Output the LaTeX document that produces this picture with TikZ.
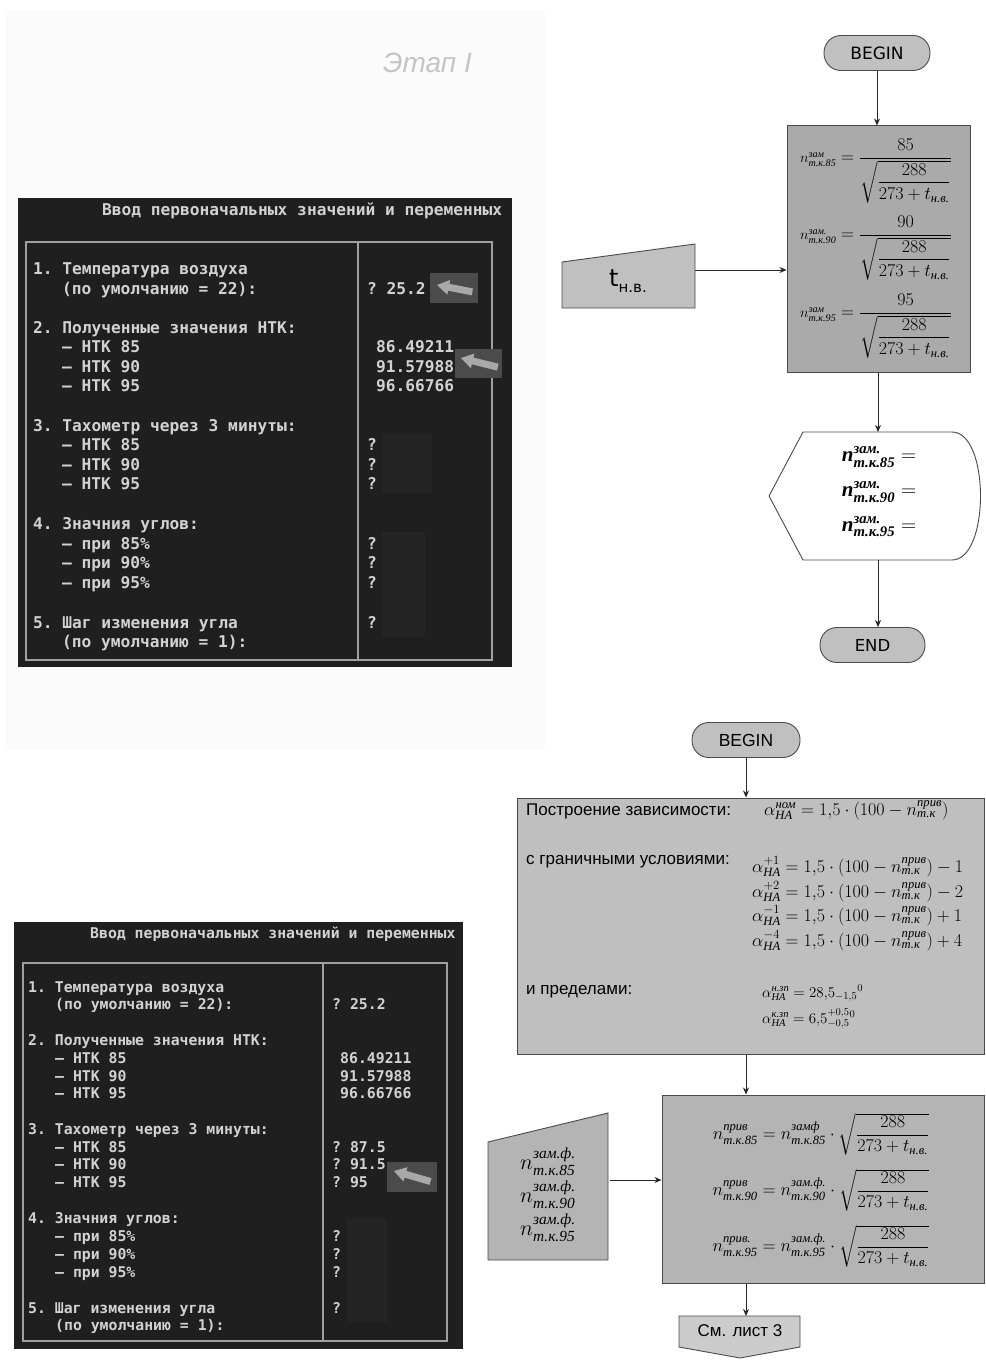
\RequirePackage{fix-cm}
\documentclass[tikz,border=0pt]{standalone}
\usepackage{amsmath}
\usepackage{graphicx}
\usepackage{fontspec}
\setmainfont{Liberation Serif}
\setsansfont{Liberation Sans}
\newfontfamily\termfont{DejaVu Sans Mono}[WordSpace={1,0,0}]
\newfontfamily\verdfont{DejaVu Sans}
\usetikzlibrary{arrows.meta,calc}
\definecolor{termbg}{HTML}{1F1F1F}
\definecolor{termtxt}{HTML}{D2D2D2}
\definecolor{termline}{HTML}{A0A0A0}
\definecolor{arrbox}{HTML}{4B4B4B}
\definecolor{arrfg}{HTML}{A8A8A8}
\definecolor{patch}{HTML}{242424}
\definecolor{flowline}{HTML}{4A4A4A}
\definecolor{fillA}{HTML}{C0C0C0}
\definecolor{fillB}{HTML}{AAAAAA}
\definecolor{fillC}{HTML}{BFBFBF}
\definecolor{fillD}{HTML}{B4B4B4}
\definecolor{fillE}{HTML}{CCCCCC}
\definecolor{faint}{HTML}{FBFBFB}
\definecolor{etapgray}{HTML}{C4C4C4}
\newcommand{\cyi}[1]{\text{\rmfamily\itshape #1}}
\newcommand{\zamfrac}[2]{$\scalebox{0.8}{$n^{\cyi{#1}}_{\cyi{т.к.#2}}$}=\dfrac{#2}{\sqrt{\dfrac{288}{273+t_{\cyi{н.в.}}}}}$}
\newcommand{\privf}[3]{$n^{\cyi{#1}}_{\cyi{т.к.#3}}=n^{\cyi{#2}}_{\cyi{т.к.#3}}\cdot\sqrt{\dfrac{288}{273+t_{\cyi{н.в.}}}}$}
\newcommand{\bnd}[2]{$\alpha^{#1}_{\cyi{НА}}=1{,}5\cdot(100-n^{\cyi{прив}}_{\cyi{т.к}})#2$}
\newcommand{\dispn}[1]{$\cyi{n}^{\cyi{зам.}}_{\cyi{т.к.#1}}=$}
\newcommand{\blkarrow}[4]{\fill[arrfg, shift={(#1,#2)}, rotate=#3] (0,0) -- (12,-7.5) -- (12,-3.5) -- (#4,-3.5) -- (#4,3.5) -- (12,3.5) -- (12,7.5) -- cycle;}
\begin{document}
\begin{tikzpicture}[x=1pt,y=-1pt,
  termA/.style={font=\termfont\bfseries\frenchspacing\fontsize{16.2}{18}\selectfont, text=termtxt, anchor=base west, inner sep=0pt},
  termB/.style={font=\termfont\bfseries\frenchspacing\fontsize{14.8}{16}\selectfont, text=termtxt, anchor=base west, inner sep=0pt},
  stadium/.style={draw=flowline, fill=fillA, line width=0.9pt, rounded corners=17pt, minimum height=35pt, inner sep=0pt},
  procbox/.style={draw=flowline, line width=1pt, inner sep=0pt},
  mathf/.style={font=\rmfamily\fontsize{18}{20}\selectfont, inner sep=0pt},
  boxlbl/.style={font=\sffamily\fontsize{17}{19}\selectfont, anchor=base west, inner sep=0pt},
  flowarrow/.style={draw=black!85, line width=0.8pt, -{Stealth[length=7pt,width=6pt]}}]
\useasboundingbox (0,0) rectangle (985,1362);
\fill[white] (0,0) rectangle (985,1362);
\fill[faint] (5,10) rectangle (545,750);

% ---------- Etap I
\node[font=\sffamily\itshape\fontsize{28}{30}\selectfont, text=etapgray, anchor=base west, inner sep=0pt] (etap) at (383,73) {Этап I};

% ---------- top terminal panel
\fill[termbg] (18,198) rectangle (512,667);
\fill[patch] (382,433) rectangle (432,493);
\fill[patch] (382,532) rectangle (425,637);
\draw[termline, line width=2pt] (26,242) rectangle (492,660);
\draw[termline, line width=2pt] (358,242) -- (358,660);
\node[termA] (ttitle) at (102,215) {Ввод первоначальных значений и переменных};
\node[termA] (t1) at (33,274) {1. Температура воздуха};
\node[termA] (t2) at (62,294) {(по умолчанию = 22):};
\node[termA] (t3) at (33,333) {2. Полученные значения НТК:};
\node[termA] (t4) at (62,352) {– НТК 85};
\node[termA] (t5) at (62,372) {– НТК 90};
\node[termA] (t6) at (62,391) {– НТК 95};
\node[termA] (t7) at (33,431) {3. Тахометр через 3 минуты:};
\node[termA] (t8) at (62,450) {– НТК 85};
\node[termA] (t9) at (62,470) {– НТК 90};
\node[termA] (t10) at (62,489) {– НТК 95};
\node[termA] (t11) at (33,529) {4. Значния углов:};
\node[termA] (t12) at (62,549) {– при 85\%};
\node[termA] (t13) at (62,568) {– при 90\%};
\node[termA] (t14) at (62,588) {– при 95\%};
\node[termA] (t15) at (33,628) {5. Шаг изменения угла};
\node[termA] (t16) at (62,647) {(по умолчанию = 1):};
\node[termA] (tv1) at (367,294) {? 25.2};
\node[termA] (tv2) at (376,352) {86.49211};
\node[termA] (tv3) at (376,372) {91.57988};
\node[termA] (tv4) at (376,391) {96.66766};
\node[termA] (tq1) at (367,450) {?};
\node[termA] (tq2) at (367,470) {?};
\node[termA] (tq3) at (367,489) {?};
\node[termA] (tq4) at (367,549) {?};
\node[termA] (tq5) at (367,568) {?};
\node[termA] (tq6) at (367,588) {?};
\node[termA] (tq7) at (367,628) {?};
\fill[arrbox] (430,273) rectangle (478,303);
\blkarrow{437}{285}{-11}{36}
\fill[arrbox] (455,349) rectangle (502,378);
\blkarrow{461}{358}{-14}{38}

% ---------- bottom terminal panel
\fill[termbg] (14,922) rectangle (463,1349);
\fill[patch] (347,1218) rectangle (387,1322);
\draw[termline, line width=2pt] (23,963) rectangle (447,1341);
\draw[termline, line width=2pt] (323,963) -- (323,1341);
\node[termB] (btitle) at (90,938) {Ввод первоначальных значений и переменных};
\node[termB] (b1) at (28,992.5) {1. Температура воздуха};
\node[termB] (b2) at (55,1009.5) {(по умолчанию = 22):};
\node[termB] (b3) at (28,1045.5) {2. Полученные значения НТК:};
\node[termB] (b4) at (55,1063.5) {– НТК 85};
\node[termB] (b5) at (55,1081.5) {– НТК 90};
\node[termB] (b6) at (55,1098.5) {– НТК 95};
\node[termB] (b7) at (28,1134.5) {3. Тахометр через 3 минуты:};
\node[termB] (b8) at (55,1152.5) {– НТК 85};
\node[termB] (b9) at (55,1169.5) {– НТК 90};
\node[termB] (b10) at (55,1187.5) {– НТК 95};
\node[termB] (b11) at (28,1223.5) {4. Значния углов:};
\node[termB] (b12) at (55,1241.5) {– при 85\%};
\node[termB] (b13) at (55,1259.5) {– при 90\%};
\node[termB] (b14) at (55,1277.5) {– при 95\%};
\node[termB] (b15) at (28,1313.5) {5. Шаг изменения угла};
\node[termB] (b16) at (55,1330.5) {(по умолчанию = 1):};
\node[termB] (bv1) at (332,1009.5) {? 25.2};
\node[termB] (bv2) at (340,1063.5) {86.49211};
\node[termB] (bv3) at (340,1081.5) {91.57988};
\node[termB] (bv4) at (340,1098.5) {96.66766};
\node[termB] (bv5) at (332,1152.5) {? 87.5};
\node[termB] (bv6) at (332,1169.5) {? 91.5};
\node[termB] (bv7) at (332,1187.5) {? 95};
\node[termB] (bq1) at (332,1241.5) {?};
\node[termB] (bq2) at (332,1259.5) {?};
\node[termB] (bq3) at (332,1277.5) {?};
\node[termB] (bq4) at (332,1313.5) {?};
\fill[arrbox] (387,1162) rectangle (437,1192);
\blkarrow{394}{1171}{-16}{38}

% ---------- top flowchart
\node[stadium, minimum width=106pt, font=\verdfont\fontsize{17}{19}\selectfont] (beg1) at (877,53) {BEGIN};
\node[procbox, fill=fillB, minimum width=183pt, minimum height=246pt] (calc1) at (878.5,249) {};
\node[mathf] (z85) at (876,171) {\zamfrac{зам}{85}};
\node[mathf] (z90) at (876,248) {\zamfrac{зам.}{90}};
\node[mathf] (z95) at (876,326) {\zamfrac{зам}{95}};
\draw[draw=flowline, fill=fillA, line width=0.9pt] (562,262) -- (695,244) -- (695,308) -- (562,308) -- cycle;
\node[inner sep=0pt] (tin) at (628,281) {\verdfont\fontsize{24}{26}\selectfont t\raisebox{-0.25em}{\fontsize{15}{16}\selectfont н.в.}};
\coordinate (in1e) at (695,270);
\draw[draw=flowline, fill=white, line width=0.9pt] (803,432) -- (952,432) .. controls (990,432) and (990,560) .. (952,560) -- (803,560) -- (769,496) -- cycle;
\coordinate (disptop) at (878,432);
\coordinate (dispbot) at (878,560);
\node[mathf, font=\rmfamily\bfseries\fontsize{21}{22}\selectfont] (d85) at (879,457) {\dispn{85}};
\node[mathf, font=\rmfamily\bfseries\fontsize{21}{22}\selectfont] (d90) at (879,492) {\dispn{90}};
\node[mathf, font=\rmfamily\bfseries\fontsize{21}{22}\selectfont] (d95) at (879,527) {\dispn{95}};
\node[stadium, minimum width=105pt, font=\verdfont\fontsize{16.5}{18}\selectfont] (end1) at (872.5,645) {END};
\draw[flowarrow] (beg1.south) -- (beg1.south |- calc1.north);
\draw[flowarrow] (in1e) -- (in1e -| calc1.west);
\draw[flowarrow] (calc1.south -| disptop) -- (disptop);
\draw[flowarrow] (dispbot) -- (dispbot |- end1.north);

% ---------- bottom flowchart
\node[stadium, minimum width=108pt, font=\sffamily\fontsize{17.5}{19}\selectfont] (beg2) at (746,740) {BEGIN};
\node[procbox, fill=fillC, minimum width=467pt, minimum height=256pt] (calc2) at (750.5,926) {};
\node[boxlbl] (l1) at (526,815) {Построение зависимости:};
\node[boxlbl] (l2) at (526,864) {с граничными условиями:};
\node[boxlbl] (l3) at (526,994) {и пределами:};
\node[mathf, anchor=base west] (f0) at (764,815) {$\alpha^{\cyi{ном}}_{\cyi{НА}}=1{,}5\cdot(100-n^{\cyi{прив}}_{\cyi{т.к}})$};
\node[mathf, anchor=base west] (f1) at (752,872) {\bnd{+1}{-1}};
\node[mathf, anchor=base west] (f2) at (752,897) {\bnd{+2}{-2}};
\node[mathf, anchor=base west] (f3) at (752,921) {\bnd{-1}{+1}};
\node[mathf, anchor=base west] (f4) at (752,946) {\bnd{-4}{+4}};
\node[mathf, anchor=base west, font=\rmfamily\fontsize{15}{17}\selectfont] (g1) at (762,997) {$\alpha^{\cyi{н.зп}}_{\cyi{НА}}=28{,}5_{-1{,}5}{}^{0}$};
\node[mathf, anchor=base west, font=\rmfamily\fontsize{15}{17}\selectfont] (g2) at (762,1023) {$\alpha^{\cyi{к.зп}}_{\cyi{НА}}=6{,}5^{+0{,}5}_{-0{,}5}{}^{0}$};
\node[procbox, fill=fillD, minimum width=322pt, minimum height=188pt] (calc3) at (823,1189) {};
\node[mathf] (p85) at (821,1134) {\privf{прив}{замф}{85}};
\node[mathf] (p90) at (821,1190) {\privf{прив}{зам.ф.}{90}};
\node[mathf] (p95) at (821,1246) {\privf{прив.}{зам.ф.}{95}};
\draw[draw=flowline, fill=fillD, line width=0.9pt] (488,1142) -- (608,1113) -- (608,1260) -- (488,1260) -- cycle;
\node[mathf, font=\rmfamily\fontsize{22}{23}\selectfont] (i85) at (548,1162) {$n^{\cyi{зам.ф.}}_{\cyi{т.к.85}}$};
\node[mathf, font=\rmfamily\fontsize{22}{23}\selectfont] (i90) at (548,1195) {$n^{\cyi{зам.ф.}}_{\cyi{т.к.90}}$};
\node[mathf, font=\rmfamily\fontsize{22}{23}\selectfont] (i95) at (548,1228) {$n^{\cyi{зам.ф.}}_{\cyi{т.к.95}}$};
\coordinate (in2e) at (610,1180);
\draw[draw=flowline, fill=fillE, line width=0.9pt] (679,1316) -- (800,1316) -- (800,1347) -- (740,1358) -- (679,1347) -- cycle;
\coordinate (contop) at (746,1316);
\node[font=\sffamily\fontsize{17}{19}\selectfont, inner sep=0pt] (cont) at (740,1331) {См. лист 3};
\draw[flowarrow] (beg2.south) -- (beg2.south |- calc2.north);
\draw[flowarrow] (calc2.south -| beg2) -- (calc3.north -| beg2);
\draw[flowarrow] (in2e) -- (in2e -| calc3.west);
\draw[flowarrow] (calc3.south -| contop) -- (contop);
\end{tikzpicture}
\end{document}
